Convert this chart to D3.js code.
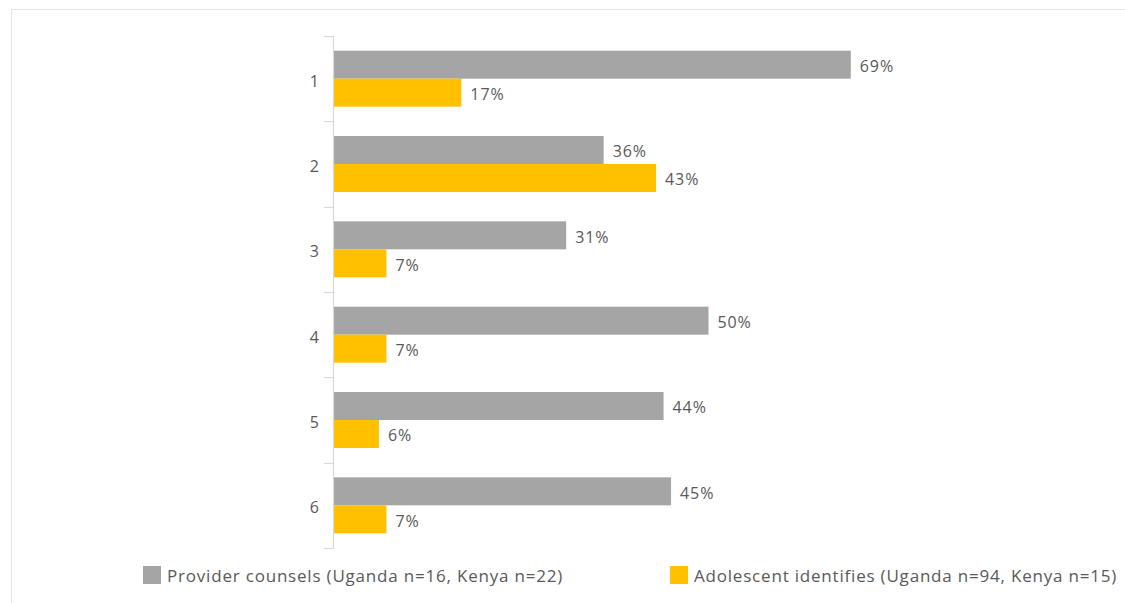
<!DOCTYPE html>
<html>
<head>
<meta charset="utf-8">
<script src="https://cdn.jsdelivr.net/npm/d3@7"></script>
<style>
  html, body { margin: 0; padding: 0; background: #fff; }
  svg { display: block; font-family: "Open Sans", "Noto Sans", sans-serif; }
</style>
</head>
<body>
<svg id="chart" width="1125" height="603"></svg>
<script>
// Categories shown on the vertical axis
const categories = ["1", "2", "3", "4", "5", "6"];
// Percentages per series
const providerCounsels = [69, 36, 31, 50, 44, 45];
const adolescentIdentifies = [17, 43, 7, 7, 6, 7];
const seriesNames = [
  "Provider counsels (Uganda n=16, Kenya n=22)",
  "Adolescent identifies (Uganda n=94, Kenya n=15)"
];
const seriesColors = ["#A5A5A5", "#FFC000"];

const svg = d3.select("#chart");
const textColor = "#595959";

// outer frame
svg.append("rect")
  .attr("x", 11.5).attr("y", 9.5)
  .attr("width", 1125).attr("height", 620)
  .attr("fill", "none").attr("stroke", "#e3e3e3").attr("stroke-width", 1);

const x = d3.scaleLinear().domain([0, 100]).range([334, 1083]);
const y = d3.scaleBand().domain(categories).range([36, 548])
  .paddingInner(0.344).paddingOuter(0.172);
const sub = d3.scaleBand().domain([0, 1]).range([0, y.bandwidth()]);

const rows = categories.map((c, i) => ({
  cat: c,
  values: [providerCounsels[i], adolescentIdentifies[i]]
}));

// bars
const groups = svg.append("g").selectAll("g").data(rows).join("g")
  .attr("transform", d => `translate(0,${y(d.cat)})`);

groups.selectAll("rect").data(d => d.values).join("rect")
  .attr("x", x(0))
  .attr("y", (v, j) => sub(j))
  .attr("width", v => x(v) - x(0))
  .attr("height", sub.bandwidth())
  .attr("fill", (v, j) => seriesColors[j]);

groups.selectAll("text").data(d => d.values).join("text")
  .attr("x", v => x(v) + 9)
  .attr("y", (v, j) => sub(j) + sub.bandwidth() / 2)
  .attr("dy", "0.45em")
  .attr("fill", textColor)
  .attr("font-size", 16)
  .attr("letter-spacing", 0.9)
  .text(v => v + "%");

// vertical axis with ticks between categories
const axisX = 333.5;
svg.append("line")
  .attr("x1", axisX).attr("x2", axisX)
  .attr("y1", 36).attr("y2", 548)
  .attr("stroke", "#d9d9d9").attr("stroke-width", 1.2);

const boundaries = categories.map(c => y(c) - y.step() * y.paddingInner() / 2);
boundaries.push(548);
svg.append("g").selectAll("line").data(boundaries).join("line")
  .attr("x1", 324).attr("x2", axisX)
  .attr("y1", d => Math.round(d) + 0.5).attr("y2", d => Math.round(d) + 0.5)
  .attr("stroke", "#d9d9d9").attr("stroke-width", 1.2);

svg.append("g").selectAll("text").data(categories).join("text")
  .attr("x", 319)
  .attr("y", c => y(c) + y.bandwidth() / 2)
  .attr("dy", "0.5em")
  .attr("text-anchor", "end")
  .attr("fill", textColor)
  .attr("font-size", 16)
  .text(c => c);

// legend
const legendX = [143, 670];
const legend = svg.append("g").selectAll("g").data(seriesNames).join("g")
  .attr("transform", (d, i) => `translate(${legendX[i]},566)`);
legend.append("rect")
  .attr("width", 18).attr("height", 18)
  .attr("fill", (d, i) => seriesColors[i]);
legend.append("text")
  .attr("x", 24).attr("y", 9).attr("dy", "0.4em")
  .attr("fill", textColor)
  .attr("font-size", 17)
  .attr("letter-spacing", 0.8)
  .text(d => d);
</script>
</body>
</html>
